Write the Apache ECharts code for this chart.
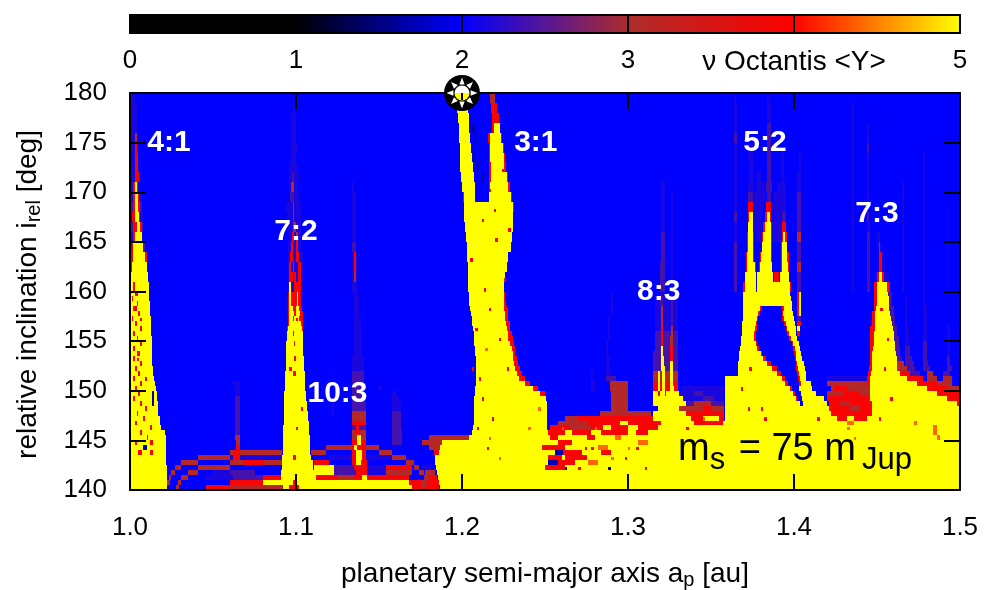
<!DOCTYPE html>
<html><head><meta charset="utf-8">
<style>html,body{margin:0;padding:0;background:#fff}#c{width:1000px;height:590px}</style>
<script src="https://cdn.jsdelivr.net/npm/echarts@6/dist/echarts.min.js"></script>
</head><body><div id="c"></div>
<script>
// MEGNO levels
const Y=5,O=4.4,R=3.9,D=3.1,P=2.4,L=2.15,N=1.7;
const baseLevel=2;
const colorbarTicks=['0','1','2','3','\u03bd Octantis <Y>','5'];
// lower edge of each inclination band [deg] (upper edge = previous band, first = 180)
const bandBottom=[179,178,177,176,175,174,173,172,171,170,169,168,167,166,165,164,163,162,161,160,
159.5,159,158.5,158,157.5,157,156.5,156,155.5,155,154.5,154,153.5,153,152.5,152,151.5,151,150.5,150,
149.5,149,148.5,148,147.5,147,146.5,146,145.5,145,144.5,144,143.5,143,142.5,142,141.5,141,140.5,140];
// cells per band: start, end (milli-au), level
const bandCells=[
[1000,1003,L,1197,1203,Y,1217,1220,D,1364,1365,L,1384,1385.5,L],
[1000,1004,L,1098,1099.5,L,1197,1203.5,Y,1217.5,1221,R,1364,1365.5,L,1384,1386,L,1435,1436,L],
[1000,1004,L,1097,1100,L,1197.5,1204,Y,1218,1222,R,1364,1365.5,L,1384,1386,L,1435,1436,L],
[1001,1004,L,1097,1100,L,1198,1204.5,Y,1206,1208,N,1218,1221.5,R,1219,1223,Y,1364,1365.5,L,1384,1386,P,1435,1436,L,1444,1445,L],
[1001,1005,L,1003,1004,D,1097,1100,L,1198,1205,Y,1208,1209,N,1215.5,1224,R,1217,1223.5,Y,1364,1365.5,P,1384,1386,P,1435,1436,L,1444,1445,L],
[1001,1005,L,1003,1004.5,R,1097,1101,L,1198.5,1205.5,Y,1210,1211,N,1216,1225,R,1217,1224.5,Y,1364,1365.5,L,1373,1375,L,1384,1386,P,1435,1436,L,1444,1445,P],
[1002,1005,L,1003,1005,R,1097,1100,L,1199,1206,Y,1207,1208,N,1216,1226,R,1217,1225,Y,1364,1365.5,L,1372,1375,L,1384,1386,P,1392,1394,L,1403,1404,L,1435,1436,L,1444,1445,L,1478,1479,L],
[1001,1006,L,1003,1005,R,1096,1101,L,1199,1206.5,Y,1209,1210,N,1216,1226.5,R,1217.5,1225.5,Y,1364,1365.5,L,1373,1376,L,1384,1386,P,1392,1394,L,1403,1404,L,1435,1436,L,1444,1445,L,1478,1479,L],
[1001,1006,L,1003,1005.5,R,1096,1102,L,1097.5,1099,P,1199.5,1207,Y,1212,1213,N,1216,1228,R,1217.5,1227,Y,1364,1365.5,L,1373,1375,L,1378,1380,L,1384,1386,P,1392,1394,L,1402,1404,L,1435,1436,L,1444,1445,L,1478,1479,L],
[1000,1006,L,1002,1005,R,1003,1004.5,Y,1096,1101,L,1097,1098.5,D,1134,1135,L,1200,1208,Y,1216,1229,R,1217,1228,Y,1320,1322,L,1364,1365.5,L,1372,1376,L,1377,1382,L,1383,1387,P,1390,1395,L,1402,1404,L,1435,1436,L,1444,1445,L,1465,1466,L,1478,1479,L],
[1000,1007,L,1002,1005.5,R,1003,1005,Y,1096.5,1098.5,P,1098.5,1102,L,1134,1136,L,1200.5,1230,R,1201,1229.5,Y,1208,1216,baseLevel,1320,1322,L,1326,1327,L,1364,1365.5,L,1372,1375,P,1376,1383,L,1384,1386,P,1388,1395,L,1402,1404,P,1435,1436,L,1444,1445,L,1465,1466,L,1478,1479,L],
[1000,1007,P,1002,1006,R,1003,1005,Y,1094,1103,L,1098,1099,D,1134,1136,L,1201,1230.5,Y,1230.5,1231,R,1320,1322,L,1326,1327,L,1364,1365.5,L,1372.5,1375,R,1376,1382,L,1383,1386,R,1387,1395,L,1402,1404,P,1435,1436,L,1444,1445,L,1465,1466,L,1478,1479,L],
[1000,1008,L,1001,1006,R,1003,1005.5,Y,1095,1103,L,1098,1099,R,1134,1136,L,1201.5,1230.5,Y,1320,1322,L,1326,1327,L,1364,1365.5,P,1372,1375,R,1373,1375,Y,1376,1381,L,1382.5,1386,R,1383.5,1385.5,Y,1388,1392,L,1393,1395,P,1402,1404,P,1435,1436,L,1444,1445,P,1465,1466,L,1478,1479,L,1492,1493,L],
[1000,1008,P,1002,1007,R,1004,1006,Y,1095,1103,L,1098,1100,D,1134,1136,L,1202,1230.5,Y,1320,1322,L,1326,1327,L,1364,1365.5,L,1372,1375.5,R,1372.5,1375,Y,1376,1381,L,1381.5,1386.5,R,1382.5,1386,Y,1387,1392,L,1393,1395,R,1402,1404,P,1435,1436,L,1444,1446,L,1465,1466,L,1478,1479,L,1492,1493,L],
[1000,1008,L,1002,1007.5,R,1003,1007,Y,1096,1103,L,1097.5,1098.5,R,1100,1101,D,1134,1136,L,1202.5,1230,Y,1320,1322,P,1326,1327,L,1364,1365.5,L,1371.5,1376,R,1372,1375,Y,1377,1381,L,1381,1387,R,1381.5,1386,Y,1387,1392,L,1392.5,1395.5,R,1393.5,1394.5,Y,1402,1404,D,1435,1436,L,1444,1446,P,1450,1452,L,1465,1466,L,1478,1479,L,1492,1493,L],
[1000,1009,P,1001,1008,R,1002,1008,Y,1095,1103,L,1097,1098,R,1100,1101,R,1134,1136,P,1203,1229.5,Y,1320,1322,P,1326,1327,L,1364,1365.5,P,1371.5,1376,R,1372,1375.5,Y,1380.5,1387,R,1381,1386,Y,1392,1396,R,1393,1395.5,Y,1402,1404,P,1435,1436,L,1444,1446,P,1450,1453,L,1451,1452,R,1465,1466,L,1478,1479,L,1492,1493,L],
[1000,1010,R,1002,1009,Y,1095,1104,L,1096.5,1098,R,1100,1102,R,1134,1137,L,1135,1136,R,1203,1228,Y,1320,1322,P,1326,1327,L,1364,1365.5,P,1371,1376,R,1371.5,1375.5,Y,1379.5,1387,R,1380,1386,Y,1392,1397,R,1392.5,1396,Y,1402,1404,P,1435,1436,L,1444,1446,P,1450,1454,L,1451,1453,R,1465,1466,L,1478,1479,L,1492,1493,L],
[1000,1010.5,R,1001,1010,Y,1095,1104,L,1096,1097,R,1098,1099,R,1101,1103,R,1134,1137,L,1135,1136,R,1203.5,1227,Y,1319,1322,P,1326,1327,L,1364,1365.5,P,1371,1377,R,1371.5,1376.5,Y,1379,1387,R,1379.5,1386.5,Y,1392,1397,R,1392.5,1396.5,Y,1402,1404,D,1435,1436,L,1444,1446,P,1450,1455,L,1451,1453,R,1465,1466,L,1478,1479,L,1492,1493,L],
[1000,1011,Y,1095,1104,L,1096,1097,Y,1095.5,1098,R,1099,1100,R,1101,1103,R,1134,1137,L,1135,1136,D,1203.5,1226,Y,1319,1322,P,1326,1327,L,1364,1365.5,P,1370.5,1377,Y,1378,1387.5,Y,1388,1391,R,1391.5,1397,Y,1402,1404,P,1435,1436,L,1444,1446,P,1449,1457,L,1450,1454,R,1451,1453,Y,1465,1466,L,1478,1479,L,1492,1493,L],
[1000,1011.5,Y,1002,1003,R,1095,1104,L,1095.5,1097,R,1096,1097,Y,1099,1103,R,1134,1137,L,1203.5,1225,Y,1319,1322,P,1326,1327,L,1364,1365.5,P,1370,1377,Y,1377.5,1397.5,Y,1369.5,1370.5,R,1397.5,1398,R,1402,1404,P,1435,1436,L,1444,1446,P,1448,1458,R,1450,1456,Y,1465,1466,L,1478,1479,L,1492,1493,L],
[1000,1011.5,Y,1003,1005,R,1095,1103,R,1096,1097,Y,1100.5,1101.5,Y,1135,1137,L,1204,1225,Y,1225,1226,R,1290,1291,L,1319,1321,L,1326,1327,L,1369.5,1397.8,Y,1402,1404,R,1403,1404,Y,1448,1450,R,1450,1456.5,Y,1456.5,1459,P,1478,1479,L],
[1000,1011.5,Y,1001,1002,R,1095,1103,R,1096,1097,Y,1100.5,1101.5,Y,1135,1138,L,1204,1225,Y,1225,1226,R,1290,1291,L,1316,1330,L,1319,1321,P,1326,1327,P,1369.5,1398,Y,1402,1404,R,1403,1404,Y,1448,1450,R,1450,1457,Y,1457,1459,P,1478,1479,L,1467,1468,L],
[1000,1012,Y,1004,1005,R,1095,1103,R,1096,1097,Y,1100.5,1101.5,Y,1135,1138,L,1204.5,1225.5,Y,1225.5,1226.5,R,1290,1291,L,1316,1330,L,1319,1321,P,1326,1327,P,1369,1398.5,Y,1402,1404,R,1403,1404,Y,1448,1450,R,1450,1457,Y,1457,1459,P,1467,1468,L,1478,1479,L],
[1000,1012,Y,1002,1004,R,1095,1103.5,R,1096,1098,Y,1100,1102,Y,1135,1138,L,1205,1225.5,Y,1225.5,1227,R,1290,1291,L,1316,1330,L,1320,1321,D,1326,1327,P,1369,1399,Y,1380.5,1393,baseLevel,1379.5,1380.5,R,1393,1394,R,1402,1404,R,1403,1404,Y,1448,1450,R,1449.5,1457.5,Y,1457.5,1460,P,1467,1468,L,1478,1480,L],
[1000,1012,Y,1005,1006,R,1095,1104,R,1096,1099,Y,1100,1102.5,Y,1135,1138,L,1205.5,1226,Y,1226,1228,R,1290,1291,L,1316,1330,L,1320,1321,D,1326,1327,P,1369,1399.5,Y,1379.5,1392.5,baseLevel,1378.5,1379.5,R,1392.5,1393.5,R,1402,1404,R,1403,1404,Y,1447,1450,R,1449,1458,Y,1458,1460,P,1467,1468,L,1478,1480,L],
[1000,1012.5,Y,1001,1002,R,1095,1104,R,1096,1102,Y,1098,1099,R,1135,1139,L,1206,1226,Y,1226,1228,R,1288,1289,L,1316,1330,L,1320,1321,D,1326,1327,P,1369,1400,Y,1378.5,1393,baseLevel,1377.5,1378.5,R,1393,1394,R,1402,1404,P,1447,1450,R,1449,1458.5,Y,1458.5,1461,P,1467,1468,L,1478,1480,L],
[1000,1012.5,Y,1003,1004,R,1095,1104,R,1095.5,1103,Y,1135,1139,L,1206,1226.5,Y,1226.5,1229,R,1288,1289,L,1316,1330,L,1320,1321,D,1326,1327,P,1368.5,1400.5,Y,1378,1394,baseLevel,1394,1395,R,1377,1378,R,1402,1404,R,1447,1449,R,1448.5,1459,Y,1459,1461,P,1467,1468,L,1478,1480,L],
[1000,1012.5,Y,1006,1007,R,1094.5,1104,R,1095,1103.5,Y,1135,1139,L,1206.5,1227,Y,1227,1229,R,1288,1289,L,1316,1330,L,1320,1321,R,1326,1327,D,1368.5,1401,Y,1377.5,1395,baseLevel,1395,1396,R,1376.5,1377.5,R,1402,1403.5,Y,1446,1449,R,1448.5,1459.5,Y,1459.5,1462,P,1467,1469,L,1478,1480,L,1492,1494,L],
[1000,1012.5,Y,1002,1003,R,1094.5,1104,Y,1098,1099,R,1135,1140,L,1207,1227.5,Y,1227.5,1230,R,1288,1289,L,1316,1330,P,1320,1321,R,1326,1327,D,1368.5,1401.5,Y,1377,1396,baseLevel,1396,1397,R,1376,1377,R,1402,1403.5,R,1446,1449,R,1448,1460,Y,1460,1462,P,1467,1469,L,1478,1480,L,1492,1494,L],
[1000,1013,Y,1004,1005,R,1094.5,1104,Y,1135,1140,L,1207,1228,Y,1228,1231,R,1288,1289,L,1316,1330,P,1320,1321,R,1325,1327,D,1368,1402,Y,1377,1397,baseLevel,1397,1398,R,1376,1377,R,1446,1448.5,R,1448,1460,Y,1460,1463,P,1467,1469,L,1478,1480,L,1492,1494,L],
[1000,1013,Y,1006,1007,R,1094,1104.5,Y,1098.5,1099.5,R,1135,1140,L,1207.5,1229,Y,1229,1231.5,R,1287,1288,L,1316,1330,P,1320,1321,R,1325,1327,D,1368,1403,Y,1378,1398.5,baseLevel,1398.5,1399.5,R,1377,1378,R,1446,1448.5,R,1448,1461,Y,1461,1463,P,1467,1470,L,1478,1480,P,1492,1494,L],
[1000,1013,Y,1002,1003,R,1094,1104.5,Y,1135,1140,L,1208,1230,Y,1230,1232,R,1287,1288,L,1316,1330,P,1320,1321,Y,1325,1327,R,1367.5,1403.5,Y,1379,1399.5,baseLevel,1399.5,1400.5,R,1378,1379,R,1446,1448,R,1447.5,1461,Y,1461,1464,P,1467,1470,P,1478,1480,P,1492,1494,L],
[1000,1013.5,Y,1004,1006,R,1094,1104.5,Y,1135,1140,L,1208,1230.5,Y,1230.5,1232,R,1287,1288,L,1315,1330,P,1320,1321,Y,1325,1327,R,1367,1404,Y,1381,1400,baseLevel,1400,1401,R,1380,1381,R,1446,1448,R,1447,1461.5,Y,1461.5,1464,P,1467,1470,P,1478,1480,P,1492,1494,L],
[1000,1013.5,Y,1002,1003,R,1094,1105,Y,1099,1100,R,1134,1141,L,1208.5,1231,Y,1231,1233,R,1287,1289,L,1315,1330,P,1320,1321.5,Y,1325,1327,R,1367,1405,Y,1383,1400.5,baseLevel,1400.5,1401.5,R,1381.5,1383,R,1445.5,1448,R,1447,1462,Y,1462,1465,P,1467,1471,P,1478,1480,P,1492,1494,P],
[1000,1013.5,Y,1006,1007,R,1094,1105,Y,1134,1141,L,1208.5,1231.5,Y,1231.5,1234,R,1287,1289,L,1315,1330,P,1320,1321.5,Y,1325,1327,Y,1366.5,1406,Y,1386,1401,baseLevel,1401,1402,R,1384,1386,R,1445.5,1448,R,1447,1462,Y,1462,1466,D,1467,1472,P,1478,1481,P,1492,1494,P],
[1000,1014,Y,1003,1004,R,1094,1105,Y,1134,1141,L,1208.5,1232,Y,1232,1235,R,1287,1289,L,1315,1330,P,1320,1322,Y,1325,1327,Y,1366,1406.5,Y,1389.5,1401.5,baseLevel,1401.5,1402.5,R,1387,1389.5,R,1445,1447.5,R,1447,1462,Y,1462,1468,D,1468,1473,P,1478,1482,P,1492,1495,P],
[1000,1014,Y,1005,1006,R,1093.5,1105.5,Y,1098,1100,R,1134,1141,P,1208.5,1233,Y,1233,1236,R,1278,1279,L,1287,1290,L,1315,1330,D,1318,1319,Y,1320.5,1322.5,Y,1325,1327,Y,1366,1407,Y,1392,1402,baseLevel,1402,1403,R,1390,1392,R,1444.5,1447,R,1446.5,1464,Y,1464,1470,R,1470,1476,P,1480,1484,D,1490,1494,P],
[1000,1014.5,Y,1002,1003,R,1093.5,1105.5,Y,1134,1141,P,1208.5,1234.5,Y,1234.5,1238,R,1278,1279,L,1287,1293,P,1315,1330,D,1318,1319,Y,1320.5,1322.5,Y,1325,1327,Y,1358.5,1407.5,Y,1394.5,1402.5,baseLevel,1402.5,1403.5,R,1392.5,1394.5,R,1420,1444,L,1444,1446.5,R,1446,1468,Y,1468,1478,R,1480,1486,D,1490,1495,D],
[1000,1015,Y,1006,1007,R,1093.5,1105.5,Y,1134,1141,P,1062,1066,L,1208.5,1238,Y,1238,1241,R,1278,1280,L,1289,1300,D,1315,1330,R,1318,1319,Y,1320.5,1322.5,Y,1325,1327,Y,1358.5,1410,Y,1396.5,1403,baseLevel,1403,1404,R,1394.5,1396.5,R,1420,1444,D,1444,1447,R,1446,1474,Y,1474,1486,R,1486,1495,D],
[1000,1015.5,Y,1003,1004,R,1093.5,1105.5,Y,1063,1066,L,1134,1141,P,1150,1152,L,1208,1243,Y,1243,1246,R,1278,1280,L,1289,1300,D,1315,1330,R,1318,1319,Y,1320.5,1322.5,Y,1325,1328,Y,1332,1358,L,1358.5,1411,Y,1398.8,1403,baseLevel,1397.5,1398.8,R,1422,1446,D,1424,1432,R,1446,1480,Y,1480,1492,R,1492,1500,D],
[1000,1016,Y,1013.5,1014.5,N,1005,1006,R,1093,1106,Y,1063,1066,L,1134,1141,P,1158,1160,L,1208,1247,Y,1247,1250,R,1290,1300,D,1315,1331,Y,1318,1319,R,1322,1323,R,1331,1358,L,1340,1345,P,1358.5,1413,Y,1400.5,1404,baseLevel,1399.5,1400.5,R,1420,1446,D,1430,1440,R,1446,1486,Y,1486,1500,R],
[1000,1016.5,Y,1013.5,1014.5,N,1002,1003,R,1093,1106,Y,1063,1066,P,1134,1141,P,1158,1162,L,1207.5,1250.5,Y,1290,1300,D,1315,1333,Y,1333,1358,L,1345,1352,P,1358.5,1418,Y,1402,1405,baseLevel,1401,1402,R,1420,1446,R,1446,1492,Y,1492,1500,R],
[1000,1017,Y,1013.5,1014.5,N,1006,1007,R,1093,1106.5,Y,1063,1066,P,1121,1123,L,1134,1142,P,1158,1163,L,1207.5,1251,Y,1290,1300,D,1315,1335,Y,1335,1358,P,1340,1350,D,1358.5,1420,Y,1403.5,1405.5,baseLevel,1421,1447,R,1428,1434,D,1447,1498,Y,1498,1500,R],
[1000,1017,Y,1009,1010,R,1092.5,1106.5,Y,1063,1066,P,1121,1123,L,1134,1142,P,1158,1163,L,1207.5,1251,Y,1290,1300,D,1318,1331,Y,1331,1358,D,1345,1350,R,1358.5,1421,Y,1421,1447,R,1434,1440,D,1447,1500,Y],
[1000,1017,Y,1004,1005,R,1092.5,1107,Y,1063,1066,P,1121,1123,L,1134,1142,D,1158,1163,P,1207,1251,Y,1283,1314,D,1315,1335,Y,1335,1358,R,1358.5,1422,Y,1422,1447,R,1447,1500,Y],
[1000,1018,Y,1008,1009,R,1092.5,1107.5,Y,1063,1066,P,1134,1142,D,1158,1163,P,1207,1251,Y,1262,1270,D,1270,1315,R,1315,1338,Y,1338,1358,R,1345,1355,Y,1358.5,1500,Y,1426,1444,R,1432,1436,Y],
[1000,1018,Y,1003,1004,R,1092.5,1108,Y,1063,1066,P,1134,1142,R,1158,1163,P,1207,1251,Y,1258,1275,D,1275,1320,R,1295,1300,Y,1320,1500,Y,1340,1357,R,1432,1436,O,1472,1474,O],
[1000,1018.5,Y,1012,1013,R,1092,1108,Y,1063,1066,P,1134,1142,P,1136,1138,R,1158,1163,P,1206.5,1251,Y,1253,1265,R,1265,1278,D,1278,1318,R,1285,1290,Y,1300,1306,Y,1318,1500,Y,1484,1486,O],
[1000,1021,Y,1006,1007,R,1092,1108,Y,1063,1066,P,1134,1142,D,1136,1138,R,1158,1164,P,1206,1500,Y,1252,1300,R,1262,1266,Y,1278,1284,Y,1305,1312,R,1484,1486,O],
[1000,1021.5,Y,1010,1011,R,1092,1108.5,Y,1063,1066,D,1134,1142,D,1137,1139,Y,1158,1164,P,1180,1204,D,1204,1500,Y,1253,1258,R,1275,1280,R,1292,1296,O,1486,1488,O],
[1000,1021.5,Y,1003,1004,R,1012,1014,R,1092,1108.5,Y,1064,1066,D,1134,1142,R,1137,1139,Y,1158,1164,P,1176,1188,D,1188,1500,Y,1258,1266,R,1306,1312,O],
[1000,1021.5,Y,1008,1010,N,1092,1108.5,Y,1064,1066,R,1118,1150,D,1134,1142,R,1135,1137,Y,1180,1187,D,1187,1500,Y,1248,1262,R,1282,1288,O],
[1000,1021.5,Y,1005,1007,R,1012,1014,R,1060,1091.5,D,1062,1066,R,1092,1108.5,Y,1109,1118,D,1134,1142,R,1136,1140,Y,1150,1158,D,1183,1500,Y,1183,1186,R,1256,1261,N,1261,1272,R,1284,1290,R],
[1000,1021.5,Y,1041,1060,D,1060,1091.5,L,1062,1066,R,1091.5,1109,Y,1098,1100,R,1120,1158,L,1134,1142,R,1136,1140,Y,1158,1166,D,1183.5,1500,Y,1252,1260,R,1262,1275,R],
[1000,1021.5,Y,1031,1041,D,1060,1091.5,D,1068,1080,R,1091.5,1110,Y,1111,1120,R,1134,1143,R,1136,1139,Y,1166,1171,D,1184,1500,Y,1252,1258,N,1258,1268,R,1276,1282,O],
[1000,1022,Y,1027,1031,D,1041,1060,D,1091.5,1110.5,Y,1111,1123,Y,1123,1135,P,1135,1143,R,1143,1154,L,1154,1170,R,1171,1174,D,1176,1182,L,1184.5,1500,Y,1250,1262,R],
[1000,1022,Y,1025,1027,D,1035,1041,D,1050,1060,L,1060,1075,P,1091,1111,Y,1111,1123,Y,1123,1136,P,1136,1143,R,1143,1154,L,1154,1170,D,1174,1177,D,1178,1184,D,1185,1500,Y],
[1000,1022,Y,1023.5,1025,D,1031,1035,D,1045,1062,L,1062,1080,P,1080,1091.5,R,1091,1112,Y,1112,1168,R,1125,1135,D,1140,1143,Y,1177,1180,D,1180,1185,R,1185.5,1500,Y],
[1000,1022,Y,1022,1024,D,1029,1031,D,1060,1080,R,1080,1091,Y,1091,1113,Y,1098,1100,R,1113,1168,Y,1168,1175,R,1175,1179,D,1179,1182,R,1182,1186,R,1186,1500,Y],
[1000,1022,Y,1028,1029.5,D,1046,1060,R,1060,1092,D,1092,1096,Y,1096,1102,R,1102,1170,Y,1170,1186,R,1175,1178,D,1186.5,1500,Y]
];
// single flecks: a (milli-au), inclination (deg), level
const fleckA=[1212,1220,1205,1225,1216,1208,1222,1214,1206,1228,1212,1218,1227,1210,1216,1224,1213,1209,1226,1219,1240,1246,1222,1215,1216,1255,1262,1270,1278,1290,1300,1310,1262,1274,1288,1298,1368,1373,1382,1372,1414,1432,1436,1452,1456,1454,1458,1451,1006,1004,1009,1100,1098,1103,1096,1100,1260,1280,1295,1305,1335,1345,1380];
const fleckI=[167,165,163,161,158,156,155,154,152,166,149,147,152,151,170,172,160,146,158,168,146,148,143,144,145,145,143,142,144,143,144,142,142,144,142,143,150,152,147,148,147,146,145,158,155,152,149,147,157,153,151,146,143,148,152,157,146,146,146,144,146,147,148];
const fleckV=[R,R,R,R,R,R,R,O,R,R,R,R,R,R,R,R,R,R,R,R,O,O,O,R,O,R,R,R,R,O,O,R,N,R,N,R,R,R,R,R,R,O,O,R,R,R,R,R,R,R,R,R,R,R,R,R,O,O,R,R,R,O,R];
// resonance labels
const resNames=['4:1','3:1','5:2','7:2','7:3','8:3','10:3'];
const resA=[1.0235,1.2445,1.3825,1.1,1.45,1.3185,1.125];
const resI=[175,175,175,166,167.8,160,149.7];

const cells=[];
bandCells.forEach((row,i)=>{
  const hi=i?bandBottom[i-1]:180, lo=bandBottom[i];
  cells.push([1,1.5,lo,hi,baseLevel]);
  for(let k=0;k<row.length;k+=3) cells.push([row[k]/1000,row[k+1]/1000,lo,hi,row[k+2]]);
});
fleckA.forEach((a,i)=>cells.push([a/1000,(a+1.5)/1000,fleckI[i],fleckI[i]+0.35,fleckV[i]]));

const font='"Liberation Sans",Arial,sans-serif';
const txt={fontFamily:font,fontSize:26,color:'#000'};
const name={fontFamily:font,fontSize:28,color:'#000'};
const sub={fontFamily:font,fontSize:20,color:'#000',padding:[12,0,0,0]};
const line={lineStyle:{color:'#000',width:2}};
const chart=echarts.init(document.getElementById('c'),null,{renderer:'canvas'});
const mirror=(extra)=>Object.assign({z:10,axisLine:{show:true,onZero:false,...line},axisTick:{show:true,inside:true,length:16,...line},splitLine:{show:false},axisLabel:{show:false}},extra);
chart.setOption({
  animation:false,
  textStyle:{fontFamily:font},
  grid:[{left:130,top:93,width:830,height:397,containLabel:false,outerBoundsMode:'none'},{left:130,top:15,width:830,height:18,containLabel:false,outerBoundsMode:'none'}],
  visualMap:{type:'continuous',min:0,max:5,seriesIndex:0,dimension:4,orient:'horizontal',left:130,top:15,padding:0,itemWidth:18,itemHeight:830,
    calculable:false,realtime:false,hoverLink:false,text:null,showLabel:false,z:1,
    inRange:{color:['#000000','#000000','#0000ff','#ad2c2c','#ff0000','#ffff00']},
    textStyle:{color:'rgba(0,0,0,0)',fontSize:1}},
  xAxis:[
    mirror({type:'value',gridIndex:0,min:1,max:1.5,interval:0.1,position:'bottom',
      name:'{t|planetary semi-major axis a}{s|p}{t| [au]}',nameLocation:'middle',nameGap:68,
      nameTextStyle:{rich:{t:name,s:sub}},
      axisLabel:{show:true,...txt,margin:25,formatter:v=>v.toFixed(1)}}),
    mirror({type:'value',gridIndex:0,min:1,max:1.5,interval:0.1,position:'top'}),
    mirror({type:'value',gridIndex:1,min:0,max:5,interval:1,position:'bottom',axisTick:{show:true,inside:true,length:18,...line},
      axisLabel:{show:true,...txt,margin:15,rich:{w:{fontFamily:font,fontSize:28,color:'#000'}},
        formatter:v=>v===4?'{w|'+colorbarTicks[4]+'}':colorbarTicks[Math.round(v)]}}),
    mirror({type:'value',gridIndex:1,min:0,max:5,interval:1,position:'top',axisTick:{show:false}})
  ],
  yAxis:[
    mirror({type:'value',gridIndex:0,min:140,max:180,interval:5,position:'left',
      name:'{t|relative inclination i}{s|rel}{t| [deg]}',nameLocation:'middle',nameGap:86,nameRotate:90,
      nameTextStyle:{rich:{t:name,s:sub},padding:[0,6,0,0]},
      axisLabel:{show:true,...txt,margin:23,padding:[4,0,0,0]}}),
    mirror({type:'value',gridIndex:0,min:140,max:180,interval:5,position:'right'}),
    mirror({type:'value',gridIndex:1,min:0,max:1,position:'left',axisTick:{show:false}}),
    mirror({type:'value',gridIndex:1,min:0,max:1,position:'right',axisTick:{show:false}})
  ],
  series:[
    {type:'custom',xAxisIndex:0,yAxisIndex:0,data:cells,encode:{x:[0,1],y:[2,3]},clip:true,silent:true,z:2,
      renderItem:(p,api)=>{
        const a=api.coord([api.value(0),api.value(2)]),b=api.coord([api.value(1),api.value(3)]);
        const x0=Math.round(a[0]),x1=Math.max(Math.round(b[0]),x0+1),y0=Math.round(b[1]),y1=Math.round(a[1]);
        return {type:'rect',shape:{x:x0,y:y0,width:x1-x0,height:y1-y0},style:{fill:api.visual('color')}};
      }},
    {type:'scatter',xAxisIndex:0,yAxisIndex:0,symbolSize:1,itemStyle:{color:'transparent',opacity:1},z:5,silent:true,
      data:resNames.map((n,i)=>({name:n,value:[resA[i],resI[i]]})),
      label:{show:true,position:'inside',formatter:'{b}',fontFamily:font,fontWeight:'bold',fontSize:30,color:'#fff',opacity:1}},
    {type:'custom',xAxisIndex:0,yAxisIndex:0,data:[[1.2,180]],encode:{x:0,y:1},clip:false,silent:true,z:20,
      renderItem:(p,api)=>{
        const c=api.coord([api.value(0),api.value(1)]),kids=[];
        kids.push({type:'circle',shape:{cx:c[0],cy:c[1],r:18},style:{fill:'#000'}});
        for(let k=0;k<8;k++){
          const t=k*Math.PI/4-Math.PI/2,h=0.3;
          kids.push({type:'polygon',shape:{points:[
            [c[0]+15.5*Math.cos(t),c[1]+15.5*Math.sin(t)],
            [c[0]+9*Math.cos(t-h),c[1]+9*Math.sin(t-h)],
            [c[0]+9*Math.cos(t+h),c[1]+9*Math.sin(t+h)]]},style:{fill:'#fff'}});
        }
        kids.push({type:'sector',shape:{cx:c[0],cy:c[1],r:7.5,startAngle:Math.PI,endAngle:2*Math.PI},style:{fill:'#fff'}});
        kids.push({type:'sector',shape:{cx:c[0],cy:c[1],r:7.5,startAngle:0,endAngle:Math.PI},style:{fill:'#ff0'}});
        kids.push({type:'rect',shape:{x:c[0]-1,y:c[1],width:2,height:7},style:{fill:'#000'}});
        return {type:'group',children:kids};
      }}
  ],
  graphic:[{type:'text',left:678,top:431,z:30,silent:true,style:{
    text:'{a|m}{b|s}{a| = 75 m}{c|Jup}',fontFamily:font,
    rich:{a:{fontFamily:font,fontSize:38,fill:'#000',color:'#000'},
      b:{fontFamily:font,fontSize:31,color:'#000',fill:'#000',padding:[20,3,0,0]},
      c:{fontFamily:font,fontSize:31,color:'#000',fill:'#000',padding:[20,0,0,6]}}}}]
});
</script></body></html>
